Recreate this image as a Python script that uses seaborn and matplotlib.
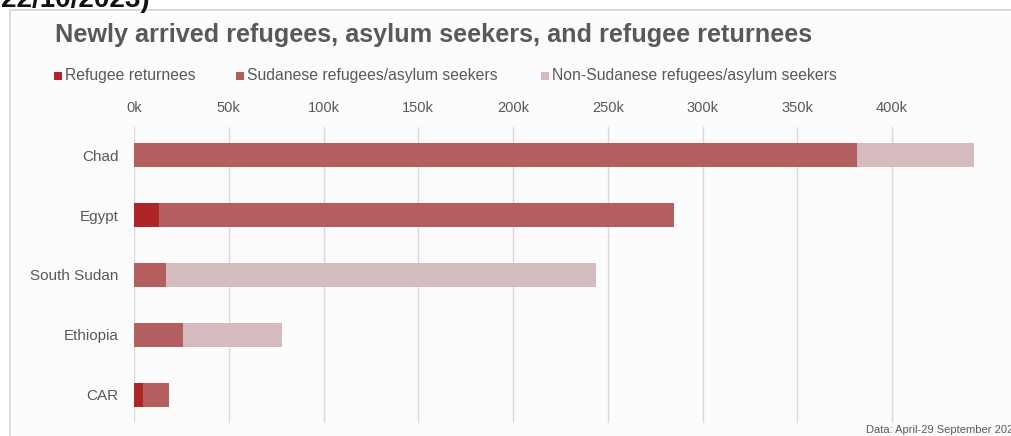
import matplotlib
matplotlib.use("Agg")
import matplotlib.pyplot as plt
from matplotlib.patches import Rectangle
import seaborn as sns
import pandas as pd
import numpy as np

# Arrivals by country, in thousands
countries = ["Chad", "Egypt", "South Sudan", "Ethiopia", "CAR"]
returnees = [0, 13, 0, 0, 4.5]
sudanese = [381.5, 272, 17, 26, 13.8]
non_sudanese = [62, 0, 227, 52, 0]
tick_values = [0, 50, 100, 150, 200, 250, 300, 350, 400]
tick_labels = ["0k", "50k", "100k", "150k", "200k", "250k", "300k", "350k", "400k"]

series_names = ["Refugee returnees", "Sudanese refugees/asylum seekers",
                "Non-Sudanese refugees/asylum seekers"]
colors = ["#ad2526", "#b45f5f", "#d5bbbd"]

df = pd.DataFrame({"country": countries, "returnees": returnees,
                   "sudanese": sudanese, "non_sudanese": non_sudanese})
df["c1"] = df["returnees"]
df["c2"] = df["c1"] + df["sudanese"]
df["c3"] = df["c2"] + df["non_sudanese"]

sns.set_theme(style="white")
plt.rcParams["font.family"] = ["Liberation Sans", "DejaVu Sans"]

W, H = 1011, 436
fig = plt.figure(figsize=(W / 100, H / 100), dpi=100)
fig.patch.set_facecolor("white")

# Panel frame
fig.patches.append(Rectangle((10 / W, -0.05), 1.1, (H - 10) / H + 0.05,
                             transform=fig.transFigure, facecolor="#fcfcfc",
                             edgecolor="#d6d6d6", linewidth=1.2, zorder=-5))

left_px, right_px, top_px, bot_px = 134, 1000, 127, 423
ax = fig.add_axes([left_px / W, (H - bot_px) / H,
                   (right_px - left_px) / W, (bot_px - top_px) / H])
ax.set_zorder(1)
ax.set_facecolor("none")

# Stacked horizontal bars: draw cumulative totals back to front
for col, color in zip(["c3", "c2", "c1"], colors[::-1]):
    sns.barplot(data=df, x=col, y="country", order=countries, color=color,
                width=0.4, orient="h", ax=ax, saturation=1, zorder=3,
                linewidth=0, edgecolor="none")

px_per_k = (892 - 134) / 400
ax.set_xlim(0, (right_px - left_px) / px_per_k)
ax.set_ylim(4.47, -0.47)
ax.set_xticks(tick_values)
ax.set_xticklabels(tick_labels)
ax.xaxis.tick_top()
ax.tick_params(axis="x", length=0, pad=9, labelsize=10.5, labelcolor="#595959")
ax.tick_params(axis="y", length=0, pad=11, labelsize=11, labelcolor="#595959")
ax.set_xlabel("")
ax.set_ylabel("")
for s in ax.spines.values():
    s.set_visible(False)
ax.grid(axis="x", color="#d9d9d9", linewidth=1, zorder=0)
ax.grid(axis="y", visible=False)
ax.set_axisbelow(True)

# Title
fig.text(55 / W, (H - 42) / H,
         "Newly arrived refugees, asylum seekers, and refugee returnees",
         fontsize=18.2, fontweight="bold", color="#595959", ha="left", va="baseline")

# Legend
legend_x = [54, 236, 541]
for x0, name, color in zip(legend_x, series_names, colors):
    fig.patches.append(Rectangle((x0 / W, (H - 80) / H), 8 / W, 8 / H,
                                 transform=fig.transFigure, facecolor=color,
                                 edgecolor="none", zorder=2))
    fig.text((x0 + 11) / W, (H - 80) / H, name, fontsize=11.3, color="#595959",
             ha="left", va="baseline")

# Header line cut at the top edge
fig.text(150 / W, (H - 7) / H, "22/10/2023)", fontsize=20, fontweight="bold",
         color="#111111", ha="right", va="baseline")

# Source note
fig.text(866 / W, (H - 433) / H, "Data: April-29 September 2023", fontsize=8.0,
         color="#595959", ha="left", va="baseline")

fig.savefig("out.png", dpi=100, facecolor="white")
